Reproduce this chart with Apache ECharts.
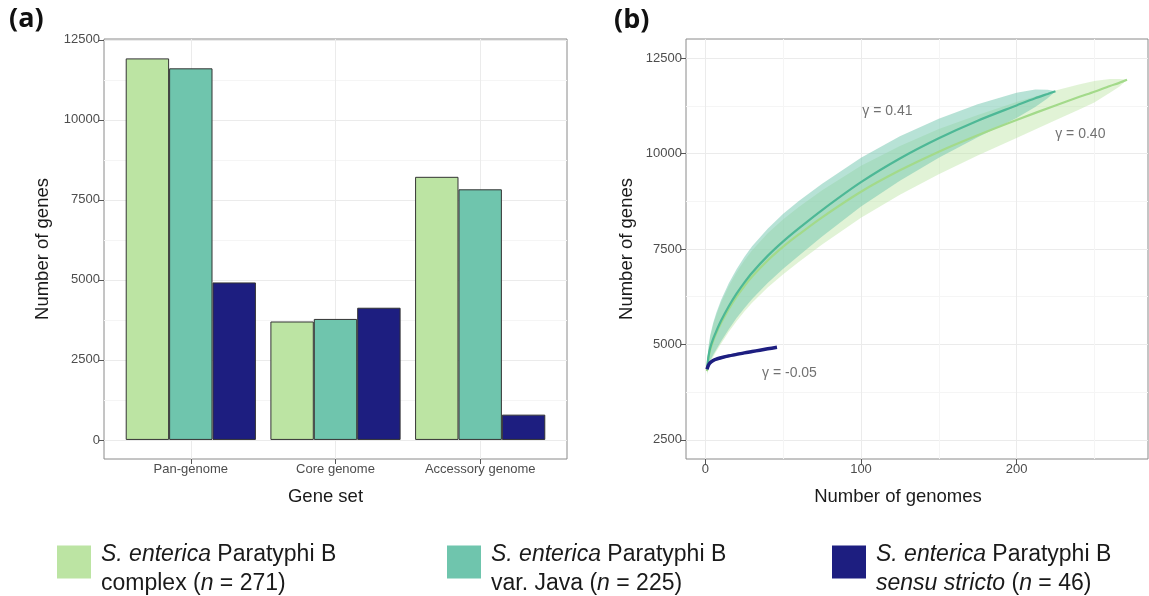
<!DOCTYPE html>
<html><head><meta charset="utf-8">
<script src="https://cdn.jsdelivr.net/npm/echarts@6/dist/echarts.min.js"></script>
<style>html,body{margin:0;padding:0;background:#fff}#c{width:1149px;height:596px}</style>
</head><body><div id="c"></div>
<script>
// ---------- data ----------
const geneSets = ['Pan-genome', 'Core genome', 'Accessory genome'];
const groupNames = ['complex', 'java', 'stricto'];
const barComplex = [11920, 3700, 8220];
const barJava = [11610, 3780, 7830];
const barStricto = [4920, 4130, 790];

const nComplex = [1, 2, 3, 5, 7, 10, 15, 20, 25, 30, 40, 50, 60, 75, 100, 125, 150, 175, 200, 225, 240, 250, 260, 266, 271];
const meanComplex = [4300, 4650, 4850, 5100, 5300, 5560, 5930, 6250, 6530, 6780, 7200, 7560, 7880, 8330, 9000, 9560, 10050, 10480, 10880, 11260, 11480, 11620, 11770, 11850, 11930];
const sdComplex = [100, 250, 330, 420, 480, 540, 600, 640, 670, 690, 710, 720, 720, 710, 680, 640, 590, 530, 470, 390, 330, 280, 180, 100, 0];

const nJava = [1, 2, 3, 5, 7, 10, 15, 20, 25, 30, 40, 50, 60, 75, 100, 125, 150, 175, 200, 212, 220, 225];
const meanJava = [4350, 4700, 4900, 5150, 5350, 5620, 6000, 6330, 6620, 6880, 7320, 7700, 8040, 8520, 9250, 9870, 10400, 10860, 11260, 11450, 11560, 11630];
const sdJava = [100, 250, 330, 420, 480, 540, 600, 640, 670, 690, 710, 720, 715, 690, 640, 580, 510, 430, 330, 230, 110, 0];

const nStricto = [1, 2, 3, 5, 7, 10, 15, 20, 25, 30, 35, 40, 46];
const meanStricto = [4350, 4460, 4520, 4580, 4615, 4650, 4700, 4740, 4780, 4815, 4850, 4885, 4925];
const sdStricto = [40, 40, 40, 40, 40, 40, 35, 35, 30, 30, 25, 20, 0];

const gammaText = ['γ = 0.41', 'γ = 0.40', 'γ = -0.05'];
const gammaN = [117, 241, 54];
const gammaGenes = [11100, 10520, 4240];

const yTicksA = [0, 2500, 5000, 7500, 10000, 12500];
const yMinorA = [1250, 3750, 6250, 8750, 11250];
const xTicksA = [1, 2, 3];
const yTicksB = [2500, 5000, 7500, 10000, 12500];
const yMinorB = [3750, 6250, 8750, 11250];
const xTicksB = [0, 100, 200];
const xMinorB = [50, 150, 250];

const legendLines = [
  ['{i|S. enterica} Paratyphi B', 'complex ({i|n} = 271)'],
  ['{i|S. enterica} Paratyphi B', 'var. Java ({i|n} = 225)'],
  ['{i|S. enterica} Paratyphi B', '{i|sensu stricto} ({i|n} = 46)']
];

// ---------- styles ----------
const colors = ['#bce4a3', '#6fc5ad', '#1d1e80'];
const lineColors = ['#a3da8a', '#4db896', '#1d1e80'];
const bandOpacity = [0.45, 0.5, 0.4];
const FONT = 'Liberation Sans, Arial, sans-serif';
const tickLabel = {color: '#4d4d4d', fontSize: 13, fontFamily: FONT, formatter: v => String(v)};
const titleStyle = {color: '#1a1a1a', fontSize: 18.5, fontFamily: FONT};
const major = {show: true, lineStyle: {color: '#ebebeb', width: 1}};
const minor = {show: true, lineStyle: {color: '#f5f5f5', width: 1}};
const tick = (vals) => ({show: true, length: 5, customValues: vals, lineStyle: {color: '#555'}});

const chart = echarts.init(document.getElementById('c'), null, {renderer: 'canvas'});

const barSeries = [barComplex, barJava, barStricto].map((arr, g) => ({
  type: 'bar', name: groupNames[g], xAxisIndex: 0, yAxisIndex: 0,
  data: arr.map((v, i) => [xTicksA[i], v]),
  barWidth: 43.4, barGap: '0%',
  itemStyle: {color: colors[g], borderColor: '#333', borderWidth: 1},
  emphasis: {disabled: true}
}));

const curves = [
  [nComplex, meanComplex, sdComplex],
  [nJava, meanJava, sdJava],
  [nStricto, meanStricto, sdStricto]
];
const ribbonSeries = curves.map(([n, m, s], g) => ({
  type: 'custom', name: 'ribbon' + g, xAxisIndex: 1, yAxisIndex: 2, silent: true, clip: true,
  data: n.map((x, i) => [x, m[i] - s[i], m[i] + s[i]]),
  encode: {x: 0, y: [1, 2]},
  renderItem: (params, api) => {
    if (params.dataIndex !== 0) return null;
    const up = n.map((x, i) => api.coord([x, m[i] + s[i]]));
    const lo = n.map((x, i) => api.coord([x, m[i] - s[i]])).reverse();
    return {type: 'polygon', shape: {points: up.concat(lo)},
            style: {fill: colors[g], opacity: bandOpacity[g]}};
  }
}));
const lineSeries = curves.map(([n, m], g) => ({
  type: 'line', name: groupNames[g], xAxisIndex: 1, yAxisIndex: 2,
  data: n.map((x, i) => [x, m[i]]), symbol: 'none', smooth: 0.3,
  lineStyle: {color: lineColors[g], width: g === 2 ? 3.5 : 2.2},
  itemStyle: {color: colors[g]}, silent: true
}));
const gammaSeries = {
  type: 'scatter', xAxisIndex: 1, yAxisIndex: 2, symbolSize: 1,
  itemStyle: {color: 'transparent'}, silent: true,
  data: gammaN.map((x, i) => [x, gammaGenes[i]]),
  label: {show: true, position: 'inside', formatter: p => gammaText[p.dataIndex],
          color: '#4d4d4d', fontSize: 14, fontFamily: FONT}
};

const legendLeft = [57, 447, 832];
const legends = groupNames.map((nm, g) => ({
  data: [nm], left: legendLeft[g], top: 526, padding: 0, itemGap: 0,
  itemWidth: 34, itemHeight: 33, icon: 'rect', selectedMode: false,
  itemStyle: {borderWidth: 0},
  formatter: () => legendLines[g].join('\n'),
  textStyle: {
    color: '#1a1a1a', fontSize: 23, fontFamily: FONT, lineHeight: 29, padding: [14, 0, 0, 5],
    rich: {i: {fontStyle: 'italic', fontSize: 23, fontFamily: FONT, lineHeight: 29, color: '#1a1a1a'}}
  }
}));

chart.setOption({
  animation: false,
  backgroundColor: '#fff',
  graphic: [
    {type: 'text', left: 9, top: 6, style: {text: '(a)', font: 'bold 27px "Open Sans", sans-serif', fill: '#111'}},
    {type: 'text', left: 614, top: 7, style: {text: '(b)', font: 'bold 27px "Open Sans", sans-serif', fill: '#111'}}
  ],
  legend: legends,
  grid: [
    {left: 104, top: 39, width: 463, height: 420, show: true, borderColor: '#8a8a8a', borderWidth: 1, backgroundColor: 'transparent'},
    {left: 686, top: 39, width: 462, height: 420, show: true, borderColor: '#8a8a8a', borderWidth: 1, backgroundColor: 'transparent'}
  ],
  xAxis: [
    {gridIndex: 0, type: 'value', min: 0.4, max: 3.6,
     axisLine: {show: false, onZero: false}, axisTick: tick(xTicksA),
     axisLabel: {customValues: xTicksA, margin: 4, ...tickLabel, formatter: v => geneSets[Math.round(v) - 1]},
     splitLine: major,
     name: 'Gene set', nameLocation: 'middle', nameGap: 28,
     nameTextStyle: {...titleStyle, padding: [0, 20, 0, 0]}},
    {gridIndex: 1, type: 'value', min: -12.5, max: 284.5,
     axisLine: {show: false, onZero: false}, axisTick: tick(xTicksB),
     axisLabel: {customValues: xTicksB, margin: 4, ...tickLabel},
     splitLine: major,
     name: 'Number of genomes', nameLocation: 'middle', nameGap: 28,
     nameTextStyle: {...titleStyle, padding: [0, 38, 0, 0]}},
    {gridIndex: 1, type: 'value', min: -12.5, max: 284.5, position: 'top',
     axisLine: {show: false, onZero: false}, axisTick: {show: false, customValues: xMinorB},
     axisLabel: {show: false, customValues: xMinorB}, splitLine: minor, z: 0}
  ],
  yAxis: [
    {gridIndex: 0, type: 'value', min: -596, max: 12526,
     axisLine: {show: false, onZero: false}, axisTick: tick(yTicksA),
     axisLabel: {customValues: yTicksA, margin: 4, ...tickLabel},
     splitLine: major,
     name: 'Number of genes', nameLocation: 'middle', nameRotate: 90, nameGap: 52, nameTextStyle: titleStyle},
    {gridIndex: 0, type: 'value', min: -596, max: 12526, position: 'right',
     axisLine: {show: false, onZero: false}, axisTick: {show: false, customValues: yMinorA},
     axisLabel: {show: false, customValues: yMinorA}, splitLine: minor, z: 0},
    {gridIndex: 1, type: 'value', min: 2000, max: 13000,
     axisLine: {show: false, onZero: false}, axisTick: tick(yTicksB),
     axisLabel: {customValues: yTicksB, margin: 4, ...tickLabel},
     splitLine: major,
     name: 'Number of genes', nameLocation: 'middle', nameRotate: 90, nameGap: 50, nameTextStyle: titleStyle},
    {gridIndex: 1, type: 'value', min: 2000, max: 13000, position: 'right',
     axisLine: {show: false, onZero: false}, axisTick: {show: false, customValues: yMinorB},
     axisLabel: {show: false, customValues: yMinorB}, splitLine: minor, z: 0}
  ],
  series: [...barSeries, ...ribbonSeries, ...lineSeries, gammaSeries]
});
</script></body></html>
